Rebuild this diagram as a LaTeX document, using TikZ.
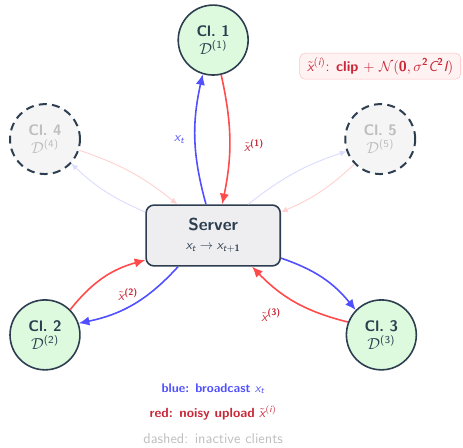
\documentclass[tikz,border=0pt]{standalone}
\usepackage{amsmath,amssymb}
\usepackage{tikz}
\usetikzlibrary{arrows.meta, positioning, shapes}
\tikzset{>={Latex[length=8pt,width=7pt]}}

\renewcommand{\familydefault}{\sfdefault}

\definecolor{navy}{RGB}{44,62,80}
\definecolor{clientfill}{RGB}{222,250,222}
\definecolor{serverfill}{RGB}{238,238,240}
\definecolor{idlefill}{RGB}{245,245,245}
\definecolor{idletext}{RGB}{190,190,190}
\definecolor{bcastblue}{RGB}{80,80,255}
\definecolor{uploadred}{RGB}{255,75,75}
\definecolor{labelred}{RGB}{200,40,55}

\tikzset{
  client/.style={circle, draw=navy, line width=1.2pt, fill=clientfill, text=navy,
    minimum size=1.85cm, inner sep=0pt, align=center, font=\large},
  idle/.style={client, line width=1.5pt, dash pattern=on 6pt off 4pt,
    fill=idlefill, text=idletext},
  server/.style={rectangle, rounded corners=6pt, draw=navy, line width=1.2pt,
    fill=serverfill, text=navy, minimum width=3.55cm, minimum height=1.61cm, align=center},
  bcast/.style={draw=bcastblue},
  upload/.style={draw=uploadred},
  faint/.style={line width=0.7pt, >={Latex[length=5pt,width=4.5pt]}},
  legend/.style={text height=1.6ex, text depth=0.5ex, inner sep=2pt}
}

% sans italic variables
\newcommand{\vx}{\textit{x}}
\newcommand{\vt}{\textit{t}}
% node texts: client name with its local data set
\newcommand{\clientlabel}[1]{{\fontsize{11.5}{13}\selectfont\bfseries Cl.~#1}\\[-0.5pt]$\mathcal{D}^{\text{(#1)}}$}

\begin{document}
\begin{tikzpicture}
\useasboundingbox (-5.64,6.23) rectangle (6.61,-5.62);

\node[server] (srv) at (0,0) {{\fontsize{13}{15}\selectfont\bfseries Server}\\[2pt]$\vx_{\vt} \to \vx_{\vt+\textbf{1}}$};
\node[client] (cl1) at (0,5.17) {\clientlabel{1}};
\node[client] (cl2) at (-4.45,-2.63) {\clientlabel{2}};
\node[client] (cl3) at (4.45,-2.63) {\clientlabel{3}};
\node[idle] (cl4) at (-4.45,2.55) {\clientlabel{4}};
\node[idle] (cl5) at (4.42,2.55) {\clientlabel{5}};

% active clients
\path[->, line width=1.2pt, font=\normalsize]
([xshift=-0.19cm]srv.north)
edge [bcast, bend left=14] node[left=4pt, text=bcastblue] {$\vx_{\vt}$} (cl1.253)
(cl1.283)
edge [upload, bend left=12] node[pos=0.55, right=7pt, text=labelred] {$\tilde{\vx}^{\textbf{(1)}}$} ([xshift=0.24cm]srv.north)
([xshift=-0.93cm]srv.south)
edge [bcast, bend left=18] (cl2.19)
(cl2.45)
edge [upload, bend left=18] node[pos=0.7, below right=10pt and -4pt, text=labelred] {$\tilde{\vx}^{\textbf{(2)}}$} ([yshift=-0.65cm]srv.west)
([yshift=-0.6cm]srv.east)
edge [bcast, bend left=16] (cl3.136)
(cl3.159)
edge [upload, bend left=16] node[pos=0.62, below left=6pt and -1pt, text=labelred] {$\tilde{\vx}^{\textbf{(3)}}$} ([xshift=1.03cm]srv.south)
;

% inactive clients
\path[->, faint]
(cl4.342)
edge [draw=uploadred!25, bend left=10] ([xshift=-0.95cm]srv.north)
([yshift=0.62cm]srv.west)
edge [draw=bcastblue!20, bend left=10] (cl4.317)
([xshift=0.93cm]srv.north)
edge [draw=bcastblue!20, bend left=10] (cl5.200)
(cl5.224)
edge [draw=uploadred!25, bend left=10] ([yshift=0.62cm]srv.east)
;

% noise model
\node[draw=uploadred!35, fill=uploadred!7, rounded corners=4pt, text=labelred,
  minimum width=4.26cm, minimum height=0.69cm, inner sep=2pt, font=\fontsize{10.8}{13}\selectfont]
  (noise) at (4.42,4.48)
  {$\tilde{\vx}^{(\textit{i})}$: \textbf{clip} + $\mathcal{N}(\textbf{0}, \sigma^{\textbf{2}}\textit{C}^{\textbf{2}}\textit{I})$};

% legend
\node[legend, font=\fontsize{9.5}{11}\selectfont, text=bcastblue, below=2.99cm of srv] (lgblue) {\textbf{blue: broadcast} $\vx_{\vt}$};
\node[legend, font=\normalsize, text=labelred, below=0.2cm of lgblue] (lgred) {\textbf{red: noisy upload} $\tilde{\vx}^{(\textit{i})}$};
\node[legend, font=\fontsize{10.8}{13}\selectfont, text=idletext, below=0.2cm of lgred] (lgidle) {dashed: inactive clients};
\end{tikzpicture}
\end{document}
